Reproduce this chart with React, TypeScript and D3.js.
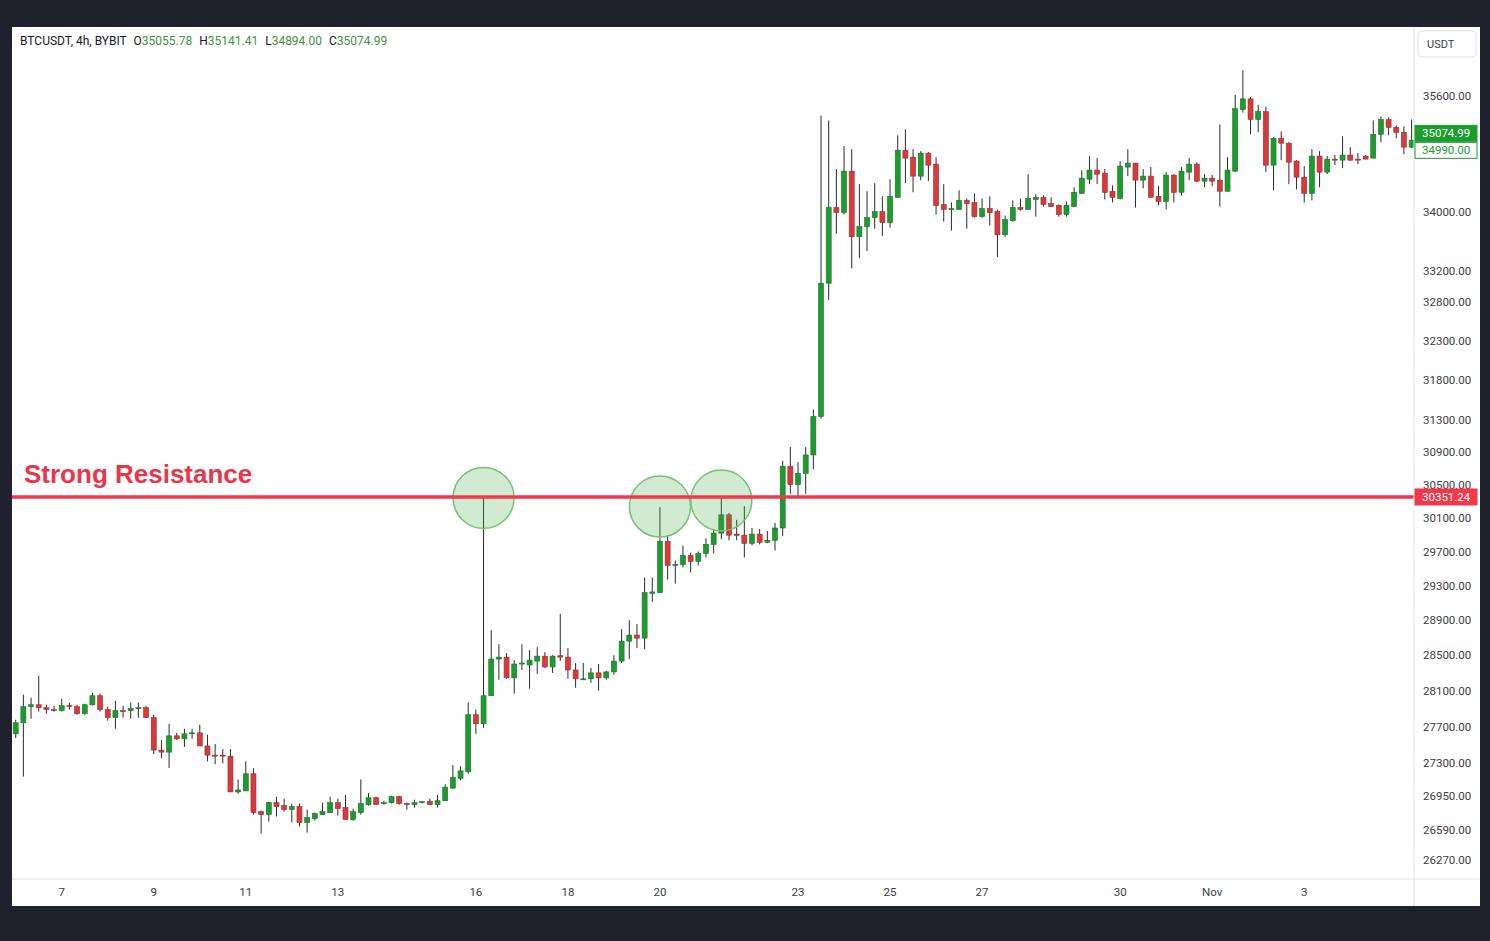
import * as d3 from "d3";

const WIDTH = 1490;
const HEIGHT = 941;
const PANEL = { left: 12, top: 27, right: 1480, bottom: 906 };
const PRICE_AXIS_X = 1414;
const TIME_AXIS_Y = 879;

const SYMBOL = "BTCUSDT, 4h, BYBIT";
const LAST_BAR: [string, number][] = [
  ["O", 35055.78],
  ["H", 35141.41],
  ["L", 34894.0],
  ["C", 35074.99],
];
const LAST_PRICE = 35074.99;
const OTHER_PRICE = 34990.0;
const RESISTANCE = 30351.24;
const RESISTANCE_LABEL = "Strong Resistance";

const START = Date.UTC(2023, 9, 6, 0);
const BAR_MS = 4 * 3600 * 1000;

const priceTicks = [
  35600, 34000, 33200, 32800, 32300, 31800, 31300, 30900, 30500, 30100, 29700,
  29300, 28900, 28500, 28100, 27700, 27300, 26950, 26590, 26270,
];

const dayTicks = [
  "2023-10-07", "2023-10-09", "2023-10-11", "2023-10-13", "2023-10-16",
  "2023-10-18", "2023-10-20", "2023-10-23", "2023-10-25", "2023-10-27",
  "2023-10-30", "2023-11-01", "2023-11-03",
];

// [open, high, low, close], one per 4h bar starting Oct 6 00:00
const ohlc: [number, number, number, number][] = [
  [27622, 27777, 27578, 27744], [27744, 28055, 27156, 27922], [27922, 28022, 27789, 27944],
  [27944, 28267, 27867, 27911], [27911, 27944, 27844, 27889], [27889, 27933, 27867, 27878],
  [27878, 28011, 27867, 27933], [27933, 27967, 27889, 27922], [27922, 27944, 27833, 27844],
  [27844, 27955, 27833, 27944], [27944, 28078, 27933, 28044], [28044, 28067, 27867, 27889],
  [27889, 27922, 27767, 27800], [27800, 27989, 27678, 27878], [27878, 27933, 27800, 27867],
  [27878, 27967, 27789, 27900], [27900, 27967, 27800, 27911], [27911, 27933, 27800, 27800],
  [27800, 27833, 27400, 27444], [27444, 27555, 27355, 27422], [27422, 27733, 27250, 27600],
  [27600, 27633, 27555, 27567], [27567, 27678, 27478, 27622], [27622, 27678, 27567, 27633],
  [27633, 27722, 27489, 27489], [27489, 27611, 27322, 27389], [27389, 27511, 27290, 27378],
  [27389, 27455, 27300, 27378], [27378, 27455, 26991, 26991], [26991, 27125, 26970, 27012],
  [27002, 27321, 27002, 27187], [27187, 27248, 26749, 26770], [26780, 26791, 26548, 26749],
  [26749, 26885, 26675, 26876], [26876, 26940, 26728, 26834], [26844, 26918, 26780, 26802],
  [26802, 26866, 26664, 26834], [26834, 26866, 26622, 26664], [26664, 26802, 26558, 26717],
  [26706, 26770, 26685, 26759], [26749, 26876, 26749, 26780], [26770, 26940, 26770, 26876],
  [26876, 26918, 26738, 26812], [26823, 26960, 26696, 26696], [26696, 26812, 26685, 26780],
  [26770, 27125, 26749, 26866], [26855, 26981, 26844, 26929], [26929, 26940, 26855, 26855],
  [26866, 26897, 26855, 26876], [26876, 26950, 26866, 26940], [26940, 26950, 26855, 26866],
  [26866, 26876, 26802, 26855], [26855, 26908, 26823, 26876], [26876, 26890, 26870, 26887],
  [26887, 26918, 26855, 26855], [26855, 26960, 26823, 26897], [26897, 27074, 26897, 27043],
  [27032, 27280, 27022, 27146], [27136, 27269, 27115, 27218], [27208, 27967, 27187, 27833],
  [27833, 27889, 27622, 27733], [27733, 30355, 27689, 28044], [28044, 28786, 28044, 28456],
  [28456, 28625, 28222, 28478], [28478, 28523, 28233, 28244], [28244, 28444, 28067, 28400],
  [28400, 28625, 28333, 28411], [28389, 28557, 28122, 28444], [28433, 28591, 28289, 28489],
  [28489, 28534, 28356, 28367], [28367, 28500, 28300, 28489], [28494, 28972, 28433, 28478],
  [28478, 28580, 28233, 28333], [28333, 28411, 28133, 28233], [28225, 28411, 28222, 28233],
  [28233, 28356, 28189, 28300], [28300, 28400, 28100, 28244], [28244, 28322, 28222, 28311],
  [28311, 28500, 28278, 28433], [28433, 28797, 28411, 28660], [28660, 28900, 28456, 28729],
  [28729, 28854, 28580, 28694], [28694, 29394, 28568, 29218], [29210, 29394, 29112, 29226],
  [29218, 30229, 29218, 29821], [29821, 29894, 29370, 29535], [29535, 29594, 29323, 29547],
  [29547, 29770, 29512, 29653], [29653, 29688, 29453, 29582], [29582, 29700, 29535, 29676],
  [29676, 29857, 29629, 29785], [29785, 29967, 29676, 29918], [29918, 30360, 29845, 30136],
  [30136, 30160, 29833, 29894], [29906, 30076, 29833, 29890], [29894, 30240, 29629, 29797],
  [29797, 29979, 29773, 29906], [29906, 29967, 29785, 29809], [29809, 29942, 29797, 29833],
  [29833, 30040, 29712, 29979], [29979, 30788, 29882, 30725], [30725, 30960, 30390, 30500],
  [30500, 30775, 30340, 30638], [30638, 30960, 30390, 30863], [30863, 31425, 30688, 31338],
  [31338, 35324, 31313, 33045], [33045, 35255, 32826, 34055], [34055, 34580, 33702, 33986],
  [33986, 34897, 33959, 34552], [34552, 34855, 33240, 33661], [33661, 34373, 33376, 33797],
  [33797, 34276, 33471, 33919], [33919, 34386, 33770, 34000], [34000, 34207, 33675, 33851],
  [33851, 34441, 33783, 34207], [34193, 35048, 34193, 34841], [34841, 35131, 34386, 34731],
  [34745, 34855, 34262, 34483], [34483, 34828, 34428, 34800], [34800, 34814, 34414, 34634],
  [34648, 34745, 33959, 34083], [34097, 34373, 33864, 34028], [34028, 34124, 33742, 34041],
  [34028, 34290, 34028, 34152], [34152, 34179, 33770, 34110], [34124, 34248, 33919, 33932],
  [33932, 34179, 33919, 34041], [34041, 34207, 33810, 33986], [34000, 34028, 33390, 33688],
  [33688, 33946, 33661, 33891], [33878, 34152, 33864, 34055], [34055, 34179, 34014, 34028],
  [34028, 34510, 34028, 34179], [34165, 34234, 33932, 34193], [34193, 34220, 34069, 34097],
  [34110, 34193, 34062, 34069], [34083, 34097, 33932, 33959], [33959, 34138, 33932, 34083],
  [34069, 34331, 34069, 34262], [34248, 34566, 34248, 34455], [34441, 34759, 34373, 34566],
  [34566, 34731, 34373, 34510], [34524, 34580, 34165, 34262], [34276, 34359, 34124, 34193],
  [34179, 34690, 34165, 34621], [34607, 34855, 34483, 34662], [34662, 34662, 34055, 34428],
  [34428, 34580, 34317, 34483], [34483, 34607, 34193, 34193], [34207, 34345, 34083, 34138],
  [34138, 34538, 34028, 34497], [34497, 34510, 34124, 34262], [34262, 34607, 34220, 34552],
  [34538, 34731, 34428, 34648], [34648, 34676, 34400, 34414], [34414, 34510, 34331, 34455],
  [34455, 34497, 34345, 34414], [34428, 35200, 34069, 34276], [34276, 34745, 34276, 34566],
  [34552, 35614, 34538, 35421], [35407, 35967, 35365, 35559], [35559, 35586, 35062, 35269],
  [35269, 35476, 35090, 35379], [35379, 35448, 34538, 34634], [34634, 35021, 34290, 35007],
  [35007, 35103, 34703, 34938], [34938, 34952, 34373, 34676], [34690, 34703, 34303, 34469],
  [34469, 34621, 34124, 34248], [34248, 34855, 34152, 34759], [34759, 34828, 34331, 34538],
  [34538, 34759, 34510, 34717], [34717, 34773, 34634, 34703], [34703, 35035, 34593, 34773],
  [34773, 34883, 34690, 34703], [34717, 34800, 34648, 34707], [34759, 34773, 34717, 34717],
  [34731, 35255, 34731, 35062], [35062, 35310, 34952, 35269], [35269, 35296, 35048, 35159],
  [35159, 35186, 35007, 35090], [35090, 35172, 34786, 34883], [34883, 35269, 34869, 34980],
];

// bars that tested the level, with the price at the circle centre
const touches: [number, number][] = [
  [61, 30340],
  [84, 30236],
  [92, 30309],
];

const UP = "#1a9c2e";
const DOWN = "#d8393c";
const AXIS_FONT = "Roboto, 'Liberation Sans', sans-serif";
const TEXT = "#3a3d45";

const barTime = (i: number) => new Date(START + i * BAR_MS);

export default function App() {
  const x = d3
    .scaleUtc()
    .domain([barTime(0), barTime(ohlc.length - 1)])
    .range([15.7, 1411.6]);
  const y = d3.scaleLog().domain([26270, 35600]).range([860, 96]);

  const bodyW = 5;
  const fmt = d3.format(".2f");
  const dayLabel = (d: Date) =>
    d.getUTCDate() === 1 ? d3.utcFormat("%b")(d) : String(d.getUTCDate());

  // price tags on the axis, pushed apart when they overlap
  const lastY = y(LAST_PRICE);
  const otherY = Math.max(y(OTHER_PRICE), lastY + 17);

  const tag = (cy: number, text: string, fill: string, stroke: string, color: string) => (
    <g key={text}>
      <rect x={PRICE_AXIS_X + 1} y={cy - 8} width={62} height={16} fill={fill} stroke={stroke} />
      <text
        x={PRICE_AXIS_X + 8}
        y={cy}
        dominantBaseline="central"
        fontSize={11.5}
        fontFamily={AXIS_FONT}
        fill={color}
      >
        {text}
      </text>
    </g>
  );

  return (
    <svg
      width={WIDTH}
      height={HEIGHT}
      style={{ position: "absolute", left: 0, top: 0 }}
    >
      <rect width={WIDTH} height={HEIGHT} fill="#1f222d" />
      <rect
        x={PANEL.left}
        y={PANEL.top}
        width={PANEL.right - PANEL.left}
        height={PANEL.bottom - PANEL.top}
        fill="#ffffff"
      />
      <defs>
        <clipPath id="plot">
          <rect
            x={PANEL.left}
            y={PANEL.top}
            width={PRICE_AXIS_X - PANEL.left}
            height={TIME_AXIS_Y - PANEL.top}
          />
        </clipPath>
      </defs>

      <g clipPath="url(#plot)">
        {ohlc.map(([o, h, l, c], i) => {
          const cx = x(barTime(i));
          const up = c >= o;
          const top = y(Math.max(o, c));
          const bottom = y(Math.min(o, c));
          return (
            <g key={i}>
              <line x1={cx} x2={cx} y1={y(h)} y2={y(l)} stroke="#2a2a2a" strokeWidth={1} />
              <rect
                x={cx - bodyW / 2}
                y={top}
                width={bodyW}
                height={Math.max(1, bottom - top)}
                fill={up ? UP : DOWN}
                stroke={up ? "#1e6f29" : "#9a2d2f"}
                strokeWidth={0.6}
              />
            </g>
          );
        })}

        {touches.map(([i, p]) => (
          <circle
            key={i}
            cx={x(barTime(i))}
            cy={y(p)}
            r={30.5}
            fill="rgba(76, 175, 80, 0.26)"
            stroke="#72c474"
            strokeWidth={1.5}
          />
        ))}

        <line
          x1={PANEL.left}
          x2={PRICE_AXIS_X}
          y1={y(RESISTANCE)}
          y2={y(RESISTANCE)}
          stroke="#f0394b"
          strokeWidth={3.5}
        />
        <text
          x={24}
          y={y(RESISTANCE) - 14}
          fontSize={26}
          fontWeight="bold"
          fontFamily="'Liberation Sans', Arial, sans-serif"
          fill="#e8374a"
        >
          {RESISTANCE_LABEL}
        </text>
      </g>

      {/* header */}
      <text x={20} y={41} dominantBaseline="central" fontSize={12} fontFamily={AXIS_FONT} fill="#131722">
        {SYMBOL}
        {LAST_BAR.map(([k, v]) => (
          <tspan key={k} dx={7}>
            <tspan fill="#131722">{k}</tspan>
            <tspan fill="#3f8f45">{fmt(v)}</tspan>
          </tspan>
        ))}
      </text>

      {/* axes separators */}
      <line x1={PRICE_AXIS_X} x2={PRICE_AXIS_X} y1={PANEL.top} y2={PANEL.bottom} stroke="#e0e3eb" />
      <line x1={PANEL.left} x2={PANEL.right} y1={TIME_AXIS_Y} y2={TIME_AXIS_Y} stroke="#e0e3eb" />

      <rect x={1418} y={31} width={58} height={26} rx={4} fill="#fff" stroke="#e0e3eb" />
      <text x={1427} y={44} dominantBaseline="central" fontSize={11} fontFamily={AXIS_FONT} fill={TEXT}>
        USDT
      </text>

      {priceTicks.map((p) => (
        <text
          key={p}
          x={PRICE_AXIS_X + 9}
          y={y(p)}
          dominantBaseline="central"
          fontSize={11.5}
          fontFamily={AXIS_FONT}
          fill={TEXT}
        >
          {fmt(p)}
        </text>
      ))}

      {dayTicks.map((s) => {
        const d = new Date(s + "T00:00:00Z");
        return (
          <text
            key={s}
            x={x(d)}
            y={892}
            textAnchor="middle"
            dominantBaseline="central"
            fontSize={11.5}
            fontFamily={AXIS_FONT}
            fill={TEXT}
          >
            {dayLabel(d)}
          </text>
        );
      })}

      {tag(lastY, fmt(LAST_PRICE), "#1a9c2e", "#1a9c2e", "#ffffff")}
      {tag(otherY, fmt(OTHER_PRICE), "#ffffff", "#1a9c2e", "#1a9c2e")}
      {tag(y(RESISTANCE), fmt(RESISTANCE), "#f0394b", "#f0394b", "#ffffff")}
    </svg>
  );
}
